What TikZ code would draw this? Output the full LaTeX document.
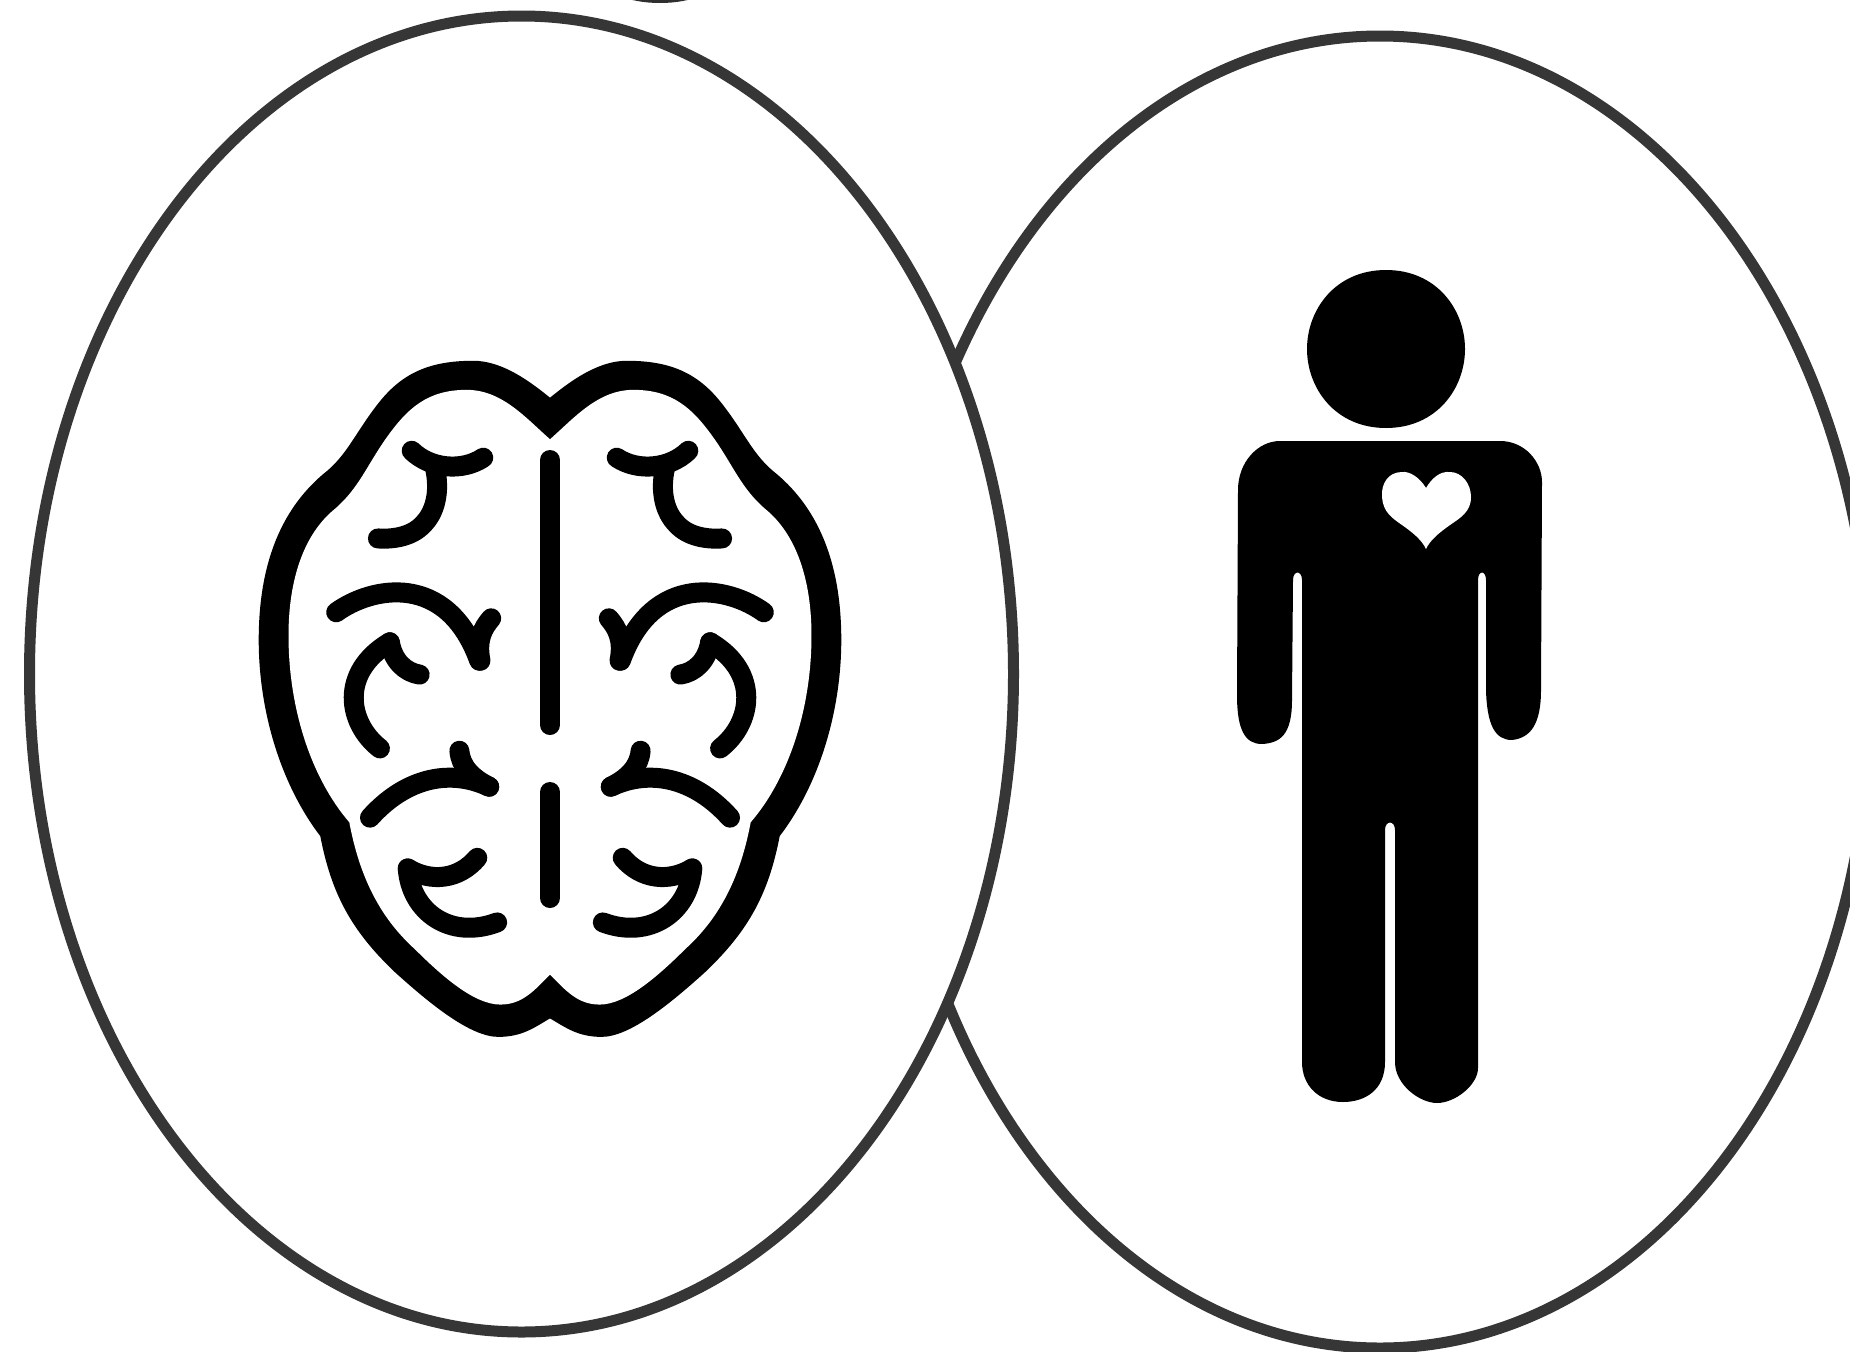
\documentclass[tikz,border=0pt]{standalone}
\definecolor{ring}{HTML}{363636}
\tikzset{
  ringshape/.style={draw=ring,line width=11pt,fill=white},
  sulcus/.style={draw=black,line width=20pt,line cap=round,line join=round},
}
\begin{document}
\begin{tikzpicture}[x=1pt,y=-1pt]
\useasboundingbox (0,0) rectangle (1850,1352);
\fill[white] (0,0) rectangle (1850,1352);
\begin{scope}
\clip (0,0) rectangle (1850,1352);
\fill[ring!85!black] (660,-22) ellipse [x radius=58pt,y radius=25pt];
\path[ringshape] (1380,692) ellipse [x radius=491pt,y radius=656pt];
\path[ringshape] (521.5,674) ellipse [x radius=492pt,y radius=658pt];
\end{scope}
% brain
\foreach \s in {1,-1}{
\begin{scope}[shift={(550pt,-340pt)},xscale=\s,x=0.3974pt,y=-0.4615pt]
\fill[black] (0,125) .. controls (-50,90) and (-120,45) .. (-193,45)
 .. controls (-300,45) and (-370,70) .. (-430,135)
 .. controls (-490,200) and (-510,250) .. (-570,290)
 .. controls (-680,370) and (-733,490) .. (-733,650)
 .. controls (-733,800) and (-680,960) .. (-578,1075)
 .. controls (-550,1200) and (-500,1280) .. (-390,1370)
 .. controls (-300,1440) and (-200,1510) .. (-130,1510)
 .. controls (-70,1510) and (-40,1490) .. (0,1470) -- cycle;
\end{scope}}
\foreach \s in {1,-1}{
\begin{scope}[shift={(550pt,-340pt)},xscale=\s,x=0.3974pt,y=-0.4615pt]
\fill[white] (0,215) .. controls (-60,170) and (-120,108) .. (-210,108)
 .. controls (-310,108) and (-360,150) .. (-410,210)
 .. controls (-460,270) and (-480,320) .. (-540,365)
 .. controls (-620,420) and (-658,520) .. (-658,640)
 .. controls (-658,800) and (-600,950) .. (-505,1045)
 .. controls (-480,1160) and (-430,1250) .. (-340,1320)
 .. controls (-270,1380) and (-190,1440) .. (-125,1440)
 .. controls (-70,1440) and (-40,1410) .. (0,1375) -- cycle;
\path[sulcus] (-348,240) .. controls (-300,280) and (-220,285) .. (-168,255);
\path[sulcus] (-290,275) .. controls (-275,330) and (-290,375) .. (-320,400) .. controls (-350,428) and (-400,432) .. (-433,430);
\path[sulcus] (-538,590) .. controls (-450,535) and (-260,500) .. (-178,695);
\path[sulcus] (-148,603) .. controls (-170,625) and (-185,650) .. (-175,695);
\path[sulcus] (-428,885) .. controls (-510,830) and (-530,720) .. (-403,655);
\path[sulcus] (-403,655) .. controls (-395,695) and (-365,720) .. (-328,725);
\path[sulcus] (-453,1035) .. controls (-370,955) and (-260,925) .. (-153,968);
\path[sulcus] (-228,890) .. controls (-225,925) and (-195,950) .. (-153,968);
\path[sulcus] (-358,1145) .. controls (-300,1175) and (-230,1170) .. (-183,1122);
\path[sulcus] (-358,1145) .. controls (-350,1240) and (-250,1300) .. (-133,1262);
\end{scope}}
\draw[sulcus] (550,460) -- (550,725);
\draw[sulcus] (550,792) -- (550,898);
% person
\fill[black] (1386,270) .. controls (1437,270) and (1465,310) .. (1465,349) .. controls (1465,388) and (1437,428) .. (1386,428) .. controls (1335,428) and (1307,388) .. (1307,349) .. controls (1307,310) and (1335,270) .. (1386,270) -- cycle;
\fill[black] (1280,441) -- (1500,441) .. controls (1525,441) and (1542,462) .. (1542,482) -- (1541,690) .. controls (1541,725) and (1530,738) .. (1512,740) .. controls (1495,740) and (1487,725) .. (1486,690) -- (1486,580) .. controls (1486,570) and (1478,570) .. (1478,580) -- (1478,1068) .. controls (1478,1085) and (1455,1103) .. (1437,1103) .. controls (1420,1103) and (1395,1085) .. (1395,1062) -- (1395,830) .. controls (1395,820) and (1385,820) .. (1385,830) -- (1385,1062) .. controls (1385,1090) and (1365,1102) .. (1343,1102) .. controls (1318,1102) and (1302,1085) .. (1302,1062) -- (1302,580) .. controls (1302,570) and (1293,570) .. (1293,580) -- (1292,700) .. controls (1292,735) and (1280,743) .. (1262,744) .. controls (1245,744) and (1237,730) .. (1237,695) -- (1238,490) .. controls (1238,462) and (1258,441) .. (1280,441) -- cycle;
\fill[white] (1426,488) .. controls (1420,478) and (1410,471) .. (1402,472) .. controls (1388,472) and (1381,484) .. (1382,497) .. controls (1383,512) and (1392,518) .. (1402,525) .. controls (1412,532) and (1422,540) .. (1426,549) .. controls (1430,540) and (1440,532) .. (1450,525) .. controls (1460,518) and (1471,512) .. (1471,497) .. controls (1471,484) and (1462,472) .. (1450,472) .. controls (1440,471) and (1432,478) .. (1426,488) -- cycle;
\end{tikzpicture}
\end{document}
